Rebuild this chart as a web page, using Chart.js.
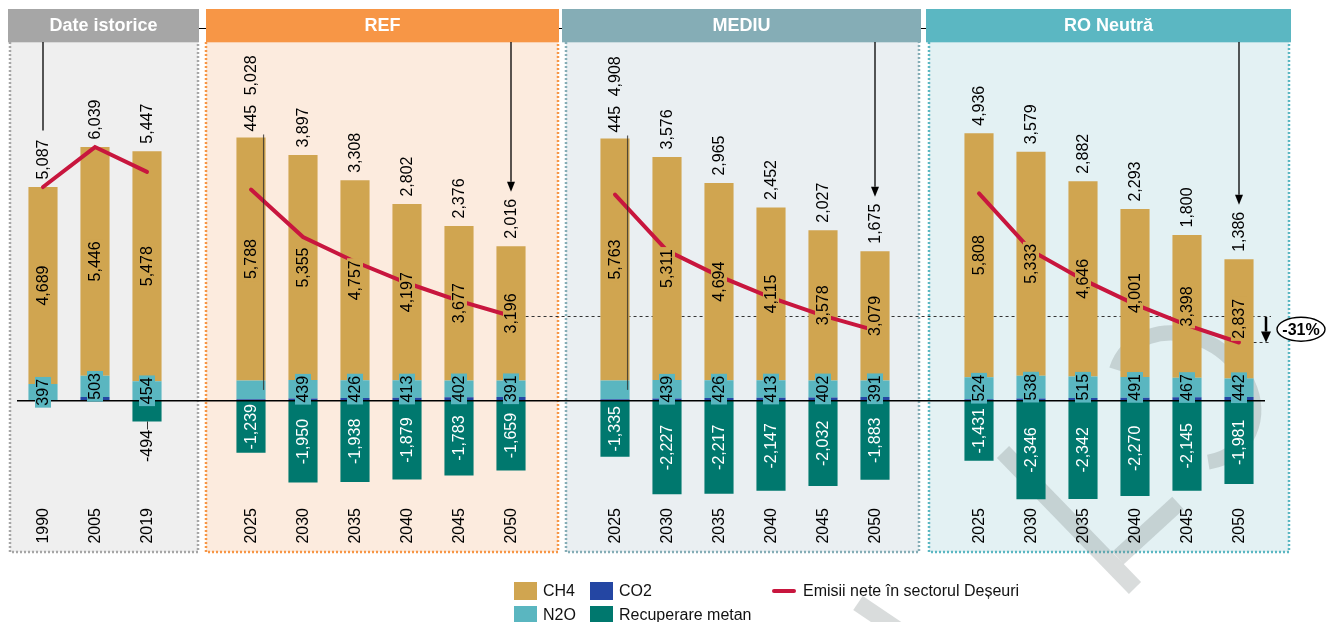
<!DOCTYPE html>
<html>
<head>
<meta charset="utf-8">
<script src="https://cdn.jsdelivr.net/npm/chart.js@4.4.0/dist/chart.umd.min.js"></script>
<style>
  html, body { margin: 0; padding: 0; background: #fff; }
  #wrap { width: 1326px; height: 622px; }
</style>
</head>
<body>
<div id="wrap"><canvas id="chart" width="1326" height="622"></canvas></div>
<script>
// categories (blank slot between the groups)
const years = ['1990', '2005', '2019', '',
  '2025', '2030', '2035', '2040', '2045', '2050', '',
  '2025', '2030', '2035', '2040', '2045', '2050', '',
  '2025', '2030', '2035', '2040', '2045', '2050'];
const groups = ['Date istorice', 'REF', 'MEDIU', 'RO Neutră'];

// kt CO2e
const ch4 = [4689, 5446, 5478, null,
  5788, 5355, 4757, 4197, 3677, 3196, null,
  5763, 5311, 4694, 4115, 3578, 3079, null,
  5808, 5333, 4646, 4001, 3398, 2837];
const n2o = [397, 503, 454, null,
  445, 439, 426, 413, 402, 391, null,
  445, 439, 426, 413, 402, 391, null,
  524, 538, 515, 491, 467, 442];
const co2 = [1, 90, 9, null,
  34, 53, 63, 71, 80, 88, null,
  35, 53, 62, 71, 79, 88, null,
  35, 54, 63, 71, 80, 88];
const recuperare = [0, 0, -494, null,
  -1239, -1950, -1938, -1879, -1783, -1659, null,
  -1335, -2227, -2217, -2147, -2032, -1883, null,
  -1431, -2346, -2342, -2270, -2145, -1981];
const emisiiNete = [5087, 6039, 5447, null,
  5028, 3897, 3308, 2802, 2376, 2016, null,
  4908, 3576, 2965, 2452, 2027, 1675, null,
  4936, 3579, 2882, 2293, 1800, 1386];

const FONT = '"Liberation Sans", Arial, sans-serif';
const C_CH4 = '#d0a550', C_N2O = '#5ab6c0', C_CO2 = '#2446a3', C_REC = '#00786e', C_NET = '#c8163e';

// panel frames: first/last category index, offsets from bar centres
const panels = [
  { first: 0, last: 2, headL: -35, headR: 52, boxL: -33, boxR: 51, head: '#a6a6a6', bg: '#efefef', line: '#a6a6a6' },
  { first: 4, last: 9, headL: -45, headR: 48, boxL: -45, boxR: 47, head: '#f79646', bg: '#fcebde', line: '#f79646' },
  { first: 11, last: 16, headL: -53, headR: 46, boxL: -49, boxR: 44, head: '#85adb6', bg: '#eaeff2', line: '#85adb6' },
  { first: 18, last: 23, headL: -53, headR: 52, boxL: -50, boxR: 50, head: '#5bb7c2', bg: '#e3f1f3', line: '#5bb7c2' }
];
const n2oAbove = [4, 11]; // 2025 REF / MEDIU labels sit above the bar

const fmt = v => Math.round(v).toLocaleString('en-US');

function vLabel(ctx, txt, cx, cy, align, color, box, font) {
  ctx.save();
  ctx.translate(cx, cy);
  ctx.rotate(-Math.PI / 2);
  ctx.font = font || ('16px ' + FONT);
  const w = ctx.measureText(txt).width;
  if (box) {
    const x0 = align === 'center' ? -w / 2 : align === 'left' ? 0 : -w;
    ctx.fillStyle = box;
    ctx.fillRect(x0 - 2, -8, w + 4, 16);
  }
  ctx.fillStyle = color;
  ctx.textAlign = align;
  ctx.textBaseline = 'middle';
  ctx.fillText(txt, 0, 1);
  ctx.restore();
  return w;
}

function arrowDown(ctx, x, y0, y1, head) {
  ctx.beginPath(); ctx.moveTo(x, y0); ctx.lineTo(x, y1 - (head ? head.h : 0)); ctx.stroke();
  if (head) {
    ctx.beginPath();
    ctx.moveTo(x - head.w / 2, y1 - head.h); ctx.lineTo(x + head.w / 2, y1 - head.h); ctx.lineTo(x, y1);
    ctx.closePath(); ctx.fill();
  }
}

const decor = {
  id: 'decor',
  beforeDraw(chart) {
    const { ctx, scales: { x, y } } = chart;
    ctx.save();
    ctx.fillStyle = '#fff';
    ctx.fillRect(0, 0, chart.width, chart.height);

    ctx.strokeStyle = '#000'; ctx.lineWidth = 1.2;
    ctx.beginPath(); ctx.moveTo(8, 28.5); ctx.lineTo(1291, 28.5); ctx.stroke();

    panels.forEach((p, k) => {
      const x0 = x.getPixelForValue(p.first), x1 = x.getPixelForValue(p.last);
      const bl = x0 + p.boxL, br = x1 + p.boxR;
      ctx.fillStyle = p.bg;
      ctx.fillRect(bl, 42, br - bl, 510);
      ctx.setLineDash([2, 2]); ctx.lineWidth = 2.5; ctx.strokeStyle = p.line;
      ctx.beginPath(); ctx.moveTo(bl, 42); ctx.lineTo(bl, 552); ctx.lineTo(br, 552); ctx.lineTo(br, 42); ctx.stroke();
      ctx.setLineDash([]);
      const hl = x0 + p.headL, hr = x1 + p.headR;
      ctx.fillStyle = p.head;
      ctx.fillRect(hl, 9, hr - hl, 33.3);
      ctx.fillStyle = '#fff'; ctx.font = 'bold 18px ' + FONT;
      ctx.textAlign = 'center'; ctx.textBaseline = 'middle';
      ctx.fillText(groups[k], (hl + hr) / 2, 26.5);
    });

    // faint draft watermark
    ctx.strokeStyle = 'rgba(120,128,128,0.28)'; ctx.lineWidth = 17; ctx.lineCap = 'butt';
    ctx.beginPath(); ctx.moveTo(1003, 452); ctx.lineTo(1135, 588); ctx.stroke();
    ctx.beginPath(); ctx.moveTo(858, 603); ctx.lineTo(935, 655); ctx.stroke();
    ctx.beginPath(); ctx.moveTo(1118, 558); ctx.lineTo(1178, 503); ctx.stroke();
    ctx.lineWidth = 15;
    ctx.beginPath(); ctx.ellipse(1184, 398, 74, 60, 35 * Math.PI / 180, 165 * Math.PI / 180, 400 * Math.PI / 180); ctx.stroke();

    // x labels under the bars
    ctx.fillStyle = '#000';
    years.forEach((yr, i) => {
      if (yr) vLabel(ctx, yr, x.getPixelForValue(i), 508, 'right', '#000');
    });

    // reference levels for the -31% comparison
    const refEnd = chart.getDatasetMeta(2).data[9];
    const roEnd = chart.getDatasetMeta(2).data[23];
    const ax = chart.chartArea.right + 1;
    ctx.strokeStyle = '#333'; ctx.lineWidth = 1; ctx.setLineDash([3, 3]);
    const ya = Math.round(y.getPixelForValue(emisiiNete[9])) + 0.5;
    const yb = Math.round(y.getPixelForValue(emisiiNete[23])) + 0.5;
    ctx.beginPath(); ctx.moveTo(refEnd.x + refEnd.width / 2, ya); ctx.lineTo(ax + 5, ya); ctx.stroke();
    ctx.beginPath(); ctx.moveTo(roEnd.x + roEnd.width / 2, yb); ctx.lineTo(ax + 5, yb); ctx.stroke();
    ctx.setLineDash([]);
    ctx.restore();
  },
  afterDatasetsDraw(chart) {
    const { ctx, chartArea, scales: { x, y } } = chart;
    const mN2o = chart.getDatasetMeta(1), mCh4 = chart.getDatasetMeta(2), mRec = chart.getDatasetMeta(3);
    ctx.save();
    const y0 = y.getPixelForValue(0);
    ctx.strokeStyle = '#000'; ctx.lineWidth = 1.5;
    ctx.beginPath(); ctx.moveTo(chartArea.left, y0); ctx.lineTo(chartArea.right, y0); ctx.stroke();

    const netTop = [];
    years.forEach((yr, i) => {
      if (ch4[i] === null) return;
      const eC = mCh4.data[i], eN = mN2o.data[i], eR = mRec.data[i];
      const bx = eC.x;
      // CH4
      vLabel(ctx, fmt(ch4[i]), bx, (eC.y + eC.base) / 2, 'center', '#000', C_CH4);
      // N2O
      let stackTop = eC.y;
      if (n2oAbove.includes(i)) {
        const w = vLabel(ctx, fmt(n2o[i]), bx, eC.y - 6, 'left', '#000');
        ctx.strokeStyle = 'rgba(40,40,40,0.75)'; ctx.lineWidth = 1.2;
        const lx = bx + eC.width / 2 - 2;
        ctx.beginPath(); ctx.moveTo(lx, eC.y - 3); ctx.lineTo(lx, (eN.y + eN.base) / 2); ctx.stroke();
        stackTop = eC.y - 6 - w - 2;
      } else {
        vLabel(ctx, fmt(n2o[i]), bx, (eN.y + eN.base) / 2, 'center', '#000', C_N2O);
      }
      // methane recovery
      if (recuperare[i] < 0) {
        const h = Math.abs(eR.y - eR.base);
        ctx.font = '16px ' + FONT;
        const tw = ctx.measureText(fmt(recuperare[i])).width;
        if (h > tw + 4) {
          vLabel(ctx, fmt(recuperare[i]), bx, (eR.y + eR.base) / 2, 'center', '#fff');
        } else {
          const bot = Math.max(eR.y, eR.base);
          vLabel(ctx, fmt(recuperare[i]), bx, bot + 8.5, 'right', '#000');
          ctx.strokeStyle = '#333'; ctx.lineWidth = 1;
          ctx.beginPath(); ctx.moveTo(bx + 0.5, bot); ctx.lineTo(bx + 0.5, bot + 8); ctx.stroke();
        }
      }
      // net total above the bar
      const w = vLabel(ctx, fmt(emisiiNete[i]), bx, stackTop - 7.5, 'left', '#000');
      netTop[i] = stackTop - 7.5 - w;
    });

    // pointers from the headers
    ctx.strokeStyle = '#000'; ctx.fillStyle = '#000'; ctx.lineWidth = 1.3;
    arrowDown(ctx, mCh4.data[0].x, 42, netTop[0] - 9, null);
    [9, 16, 23].forEach(i => arrowDown(ctx, mCh4.data[i].x, 42, netTop[i] - 7, { w: 8, h: 10 }));

    // -31% annotation
    const ya = y.getPixelForValue(emisiiNete[9]), yb = y.getPixelForValue(emisiiNete[23]);
    const ax = chartArea.right + 1;
    ctx.lineWidth = 2.5;
    arrowDown(ctx, ax, ya + 1, yb, { w: 10, h: 11 });
    const pct = Math.round((emisiiNete[23] / emisiiNete[9] - 1) * 100);
    ctx.fillStyle = '#fff'; ctx.strokeStyle = '#000'; ctx.lineWidth = 1.4;
    ctx.beginPath(); ctx.ellipse(ax + 35, (ya + yb) / 2, 24, 12, 0, 0, Math.PI * 2); ctx.fill(); ctx.stroke();
    ctx.fillStyle = '#000'; ctx.font = 'bold 16px ' + FONT; ctx.textAlign = 'center'; ctx.textBaseline = 'middle';
    ctx.fillText(pct + '%', ax + 35, (ya + yb) / 2 + 1);
    ctx.restore();
  },
  afterDraw(chart) {
    const { ctx } = chart;
    const ds = chart.data.datasets;
    const slots = [
      { d: 2, x: 514, y: 591 }, { d: 1, x: 514, y: 615 },
      { d: 0, x: 590, y: 591 }, { d: 3, x: 590, y: 615 },
      { d: 4, x: 772, y: 591 }
    ];
    ctx.save();
    ctx.font = '16px ' + FONT; ctx.textBaseline = 'middle'; ctx.textAlign = 'left';
    slots.forEach(s => {
      const d = ds[s.d];
      if (d.type === 'line') {
        ctx.strokeStyle = d.borderColor; ctx.lineWidth = 4; ctx.lineCap = 'round';
        ctx.beginPath(); ctx.moveTo(s.x + 2, s.y); ctx.lineTo(s.x + 22, s.y); ctx.stroke();
        ctx.fillStyle = '#111'; ctx.fillText(d.label, s.x + 31, s.y + 1);
      } else {
        ctx.fillStyle = d.backgroundColor; ctx.fillRect(s.x, s.y - 9, 23, 18);
        ctx.fillStyle = '#111'; ctx.fillText(d.label, s.x + 29, s.y + 1);
      }
    });
    ctx.restore();
  }
};

Chart.defaults.font.family = FONT;

new Chart(document.getElementById('chart'), {
  type: 'bar',
  data: {
    labels: years,
    datasets: [
      { label: 'CO2', data: co2, backgroundColor: C_CO2, order: 1 },
      { label: 'N2O', data: n2o, backgroundColor: C_N2O, order: 1 },
      { label: 'CH4', data: ch4, backgroundColor: C_CH4, order: 1 },
      { label: 'Recuperare metan', data: recuperare, backgroundColor: C_REC, order: 1 },
      { type: 'line', label: 'Emisii nete în sectorul Deșeuri', data: emisiiNete, borderColor: C_NET,
        borderWidth: 4, pointRadius: 0, tension: 0, spanGaps: false, borderCapStyle: 'round', order: 0, stack: 'net' }
    ]
  },
  options: {
    responsive: false,
    animation: false,
    datasets: { bar: { barPercentage: 0.56, categoryPercentage: 1 } },
    layout: { padding: { left: 17, right: 61, top: 42, bottom: 120.5 } },
    plugins: { legend: { display: false }, tooltip: { enabled: false } },
    scales: {
      x: { stacked: true, display: false },
      y: { stacked: true, display: false, min: -2400, max: 8540 }
    }
  },
  plugins: [decor]
});
</script>
</body>
</html>
